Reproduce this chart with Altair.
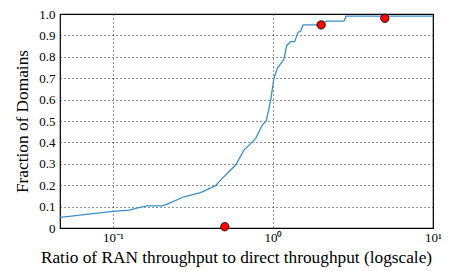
import altair as alt
import pandas as pd

# CDF curve
ratio = [0.0467, 0.1, 0.126, 0.145, 0.163, 0.204, 0.224, 0.278, 0.353, 0.438,
         0.482, 0.531, 0.585, 0.659, 0.78, 0.857, 0.908, 0.968, 1.014, 1.064,
         1.143, 1.17, 1.218, 1.29, 1.367, 1.433, 1.49, 1.54, 1.89, 2.18, 2.78,
         2.86, 10.0]
fraction = [0.05, 0.078, 0.084, 0.095, 0.103, 0.103, 0.115, 0.146, 0.165, 0.198,
            0.232, 0.263, 0.294, 0.364, 0.419, 0.481, 0.5, 0.598, 0.70, 0.746,
            0.777, 0.788, 0.852, 0.871, 0.871, 0.914, 0.92, 0.949, 0.949, 0.967, 0.967,
            0.99, 0.99]

# highlighted points
pt_ratio = [0.5, 2.0, 5.0]
pt_fraction = [0.006, 0.949, 0.98]

x_ticks = [0.1, 1, 10]
y_ticks = [0, 0.1, 0.2, 0.3, 0.4, 0.5, 0.6, 0.7, 0.8, 0.9, 1.0]

curve = pd.DataFrame({"ratio": ratio, "fraction": fraction})
pts = pd.DataFrame({"ratio": pt_ratio, "fraction": pt_fraction})

FONT = "Liberation Serif"

xscale = alt.Scale(type="log", domain=[0.0467, 10], nice=False)
yscale = alt.Scale(domain=[0, 1], nice=False)

xaxis = alt.Axis(
    values=x_ticks,
    title="Ratio of RAN throughput to direct throughput (logscale)",
    labelExpr="datum.value < 0.5 ? '10⁻¹' : (datum.value < 5 ? '10⁰' : '10¹')",
    grid=True, gridDash=[1, 3], gridColor="#000", gridOpacity=0.85,
    ticks=False, domain=False, labelFlush=False, labelPadding=3,
    labelOverlap=False,
    labelFont=FONT, titleFont=FONT,
    labelFontSize=13, titleFontSize=17.3, titleFontWeight="normal",
    labelColor="#000", titleColor="#000", titlePadding=4,
    titleX=176, titleAlign="center",
)
yaxis = alt.Axis(
    values=y_ticks, tickCount=11,
    title="Fraction of Domains",
    labelExpr="datum.value == 0 ? '0' : format(datum.value, '.1f')",
    grid=True, gridDash=[1, 3], gridColor="#000", gridOpacity=0.85,
    ticks=False, domain=False, labelPadding=5, labelOverlap=False,
    labelFont=FONT, titleFont=FONT,
    labelFontSize=13, titleFontSize=17.3, titleFontWeight="normal",
    labelColor="#000", titleColor="#000", titlePadding=7,
)

line = alt.Chart(curve).mark_line(color="#3a8fc8", strokeWidth=1.3, clip=True).encode(
    x=alt.X("ratio:Q", scale=xscale, axis=xaxis),
    y=alt.Y("fraction:Q", scale=yscale, axis=yaxis),
    order="ratio:Q",
)

dots = alt.Chart(pts).mark_point(
    filled=True, fill="#ff0000", stroke="#000", strokeWidth=0.8, size=70, opacity=1
).encode(
    x=alt.X("ratio:Q", scale=xscale),
    y=alt.Y("fraction:Q", scale=yscale),
)

chart = alt.layer(line, dots).properties(
    width=373, height=214,
    padding={"left": 52, "top": 6, "right": 10, "bottom": 40},
    autosize=alt.AutoSizeParams(type="none"),
).configure(
    font=FONT,
).configure_view(
    stroke="#000", strokeWidth=1.2,
)

chart.save("out.html", embed_options={"renderer": "svg", "actions": False})
